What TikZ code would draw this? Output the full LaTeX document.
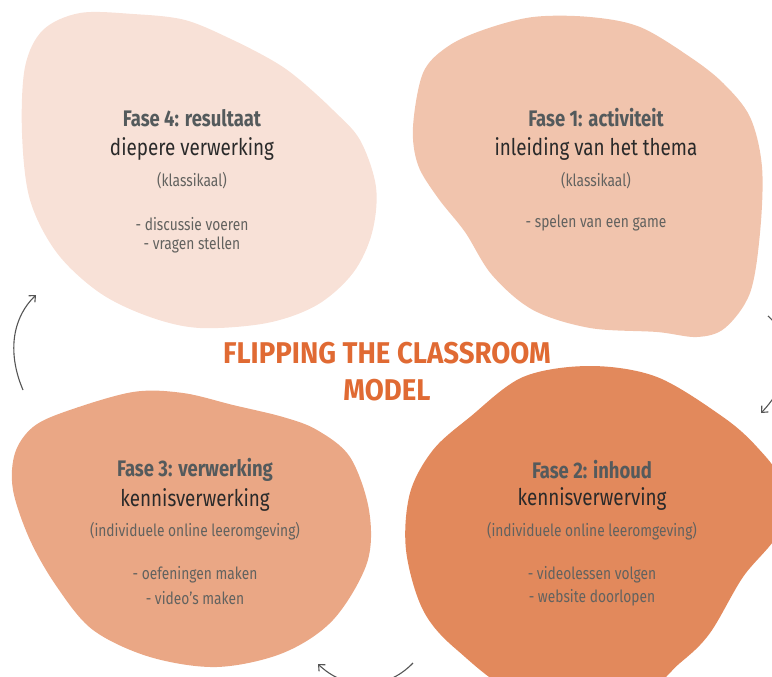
\documentclass[tikz,border=0pt]{standalone}
\usepackage{fontspec}
\setmainfont{Fira Sans}[FakeStretch=0.82]
\newfontfamily\titlefont{Fira Sans}[FakeStretch=0.92]
\usetikzlibrary{arrows.meta}

\definecolor{blobfour}{HTML}{F8E1D7}
\definecolor{blobone}{HTML}{F1C4AD}
\definecolor{blobthree}{HTML}{EAA785}
\definecolor{blobtwo}{HTML}{E2895C}
\definecolor{headgrey}{HTML}{545A5C}
\definecolor{subblack}{HTML}{2A2A2A}
\definecolor{infogrey}{HTML}{62625F}
\definecolor{titleorange}{HTML}{E06A33}
\definecolor{arrowgrey}{HTML}{555555}

\begin{document}
\begin{tikzpicture}[x=1pt,y=-1pt,>={Straight Barb[length=5pt,width=9pt]}]
  \tikzstyle{blob}=[draw=none]
  \tikzstyle{head}=[text=headgrey,font=\bfseries\fontsize{22.5}{26}\selectfont]
  \tikzstyle{sub}=[text=subblack,font=\fontsize{23}{27}\selectfont]
  \tikzstyle{info}=[text=infogrey,font=\fontsize{16.8}{20}\selectfont]
  \tikzstyle{title}=[text=titleorange,font=\titlefont\bfseries\fontsize{30}{37}\selectfont,align=center]
  \tikzstyle{cycle}=[->,draw=arrowgrey,line width=1.1pt]

  \useasboundingbox (0,0) rectangle (772,677);
  \clip (0,0) rectangle (772,677);

  % blobs
  \fill[blob,blobfour] plot[smooth cycle,tension=0.55] coordinates {
    (80,13) (133,14) (185,20) (233,40) (275,62) (300,80) (333,110) (360,140)
    (376,187) (372,233) (353,273) (317,305) (267,323) (200,328) (150,317)
    (100,293) (57,253) (30,200) (22,133) (25,67) (43,30)};
  \fill[blob,blobone] plot[smooth cycle,tension=0.55] coordinates {
    (483,30) (533,17) (590,17) (640,27) (690,57) (723,83) (750,117) (762,167)
    (760,233) (750,293) (725,328) (697,337) (657,332) (590,328) (533,310)
    (492,275) (465,232) (438,198) (418,165) (413,127) (423,73) (447,47)};
  \fill[blob,blobthree] plot[smooth cycle,tension=0.55] coordinates {
    (33,427) (67,411) (133,392) (183,393) (233,405) (283,417) (317,430)
    (350,457) (369,510) (367,563) (333,620) (283,653) (217,667) (150,657)
    (93,630) (57,587) (30,540) (13,490) (15,453)};
  \fill[blob,blobtwo] plot[smooth cycle,tension=0.55] coordinates {
    (523,377) (590,366) (657,377) (723,417) (757,447) (780,480) (780,530)
    (743,577) (710,633) (680,663) (630,700) (523,695) (457,650) (423,610)
    (406,550) (410,493) (433,450) (470,417)};

  % title
  \node[title] at (387,372) (title) {FLIPPING THE CLASSROOM\\MODEL};

  % fase 4
  \node[head] at (192,118) (h4) {Fase 4: resultaat};
  \node[sub]  at (192,149) (s4) {diepere verwerking};
  \node[info] at (192,181) (k4) {(klassikaal)};
  \node[info] at (192,224) (b4a) {- discussie voeren};
  \node[info] at (192,245) (b4b) {- vragen stellen};

  % fase 1
  \node[head] at (596,118) (h1) {Fase 1: activiteit};
  \node[sub]  at (596,149) (s1) {inleiding van het thema};
  \node[info] at (596,181) (k1) {(klassikaal)};
  \node[info] at (596,223) (b1a) {- spelen van een game};

  % fase 3
  \node[head] at (195,470) (h3) {Fase 3: verwerking};
  \node[sub]  at (195,500) (s3) {kennisverwerking};
  \node[info] at (195,531) (k3) {(individuele online leeromgeving)};
  \node[info] at (195,575) (b3a) {- oefeningen maken};
  \node[info] at (195,598) (b3b) {- video’s maken};

  % fase 2
  \node[head] at (592,470) (h2) {Fase 2: inhoud};
  \node[sub]  at (592,499) (s2) {kennisverwerving};
  \node[info] at (592,531) (k2) {(individuele online leeromgeving)};
  \node[info] at (592,575) (b2a) {- videolessen volgen};
  \node[info] at (592,598) (b2b) {- website doorlopen};

  % cycle arrows
  \coordinate (up0) at (23,390);
  \coordinate (up1) at (36,295);
  \coordinate (dn0) at (768,316);
  \coordinate (dn1) at (761,413);
  \coordinate (lt0) at (413,663);
  \coordinate (lt1) at (318,664);

  \draw[cycle] (up0) .. controls (6,350) and (14,316) .. (up1);
  \draw[cycle] (dn0) .. controls (800,345) and (788,385) .. (dn1);
  \draw[cycle] (lt0) .. controls (385,692) and (345,690) .. (lt1);
\end{tikzpicture}
\end{document}
